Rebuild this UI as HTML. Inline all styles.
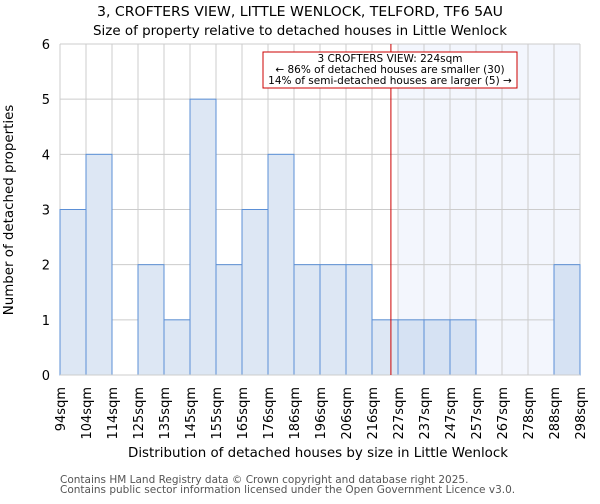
<!DOCTYPE html>
<html><head><meta charset="utf-8"><style>
body{margin:0;background:#fff;font-family:"DejaVu Sans","Liberation Sans",sans-serif}
</style></head><body>
<svg id="c" width="600" height="500" xmlns="http://www.w3.org/2000/svg" font-family="DejaVu Sans, Liberation Sans, sans-serif">
<text x="300" y="16" text-anchor="middle" font-size="13" textLength="406" lengthAdjust="spacingAndGlyphs">3, CROFTERS VIEW, LITTLE WENLOCK, TELFORD, TF6 5AU</text>
<text x="300" y="35" text-anchor="middle" font-size="13" textLength="414" lengthAdjust="spacingAndGlyphs">Size of property relative to detached houses in Little Wenlock</text>
<g id="plot"></g>
<text x="318" y="457" text-anchor="middle" font-size="13.4" textLength="380" lengthAdjust="spacingAndGlyphs">Distribution of detached houses by size in Little Wenlock</text>
<text transform="translate(13,210) rotate(-90)" text-anchor="middle" font-size="13.4">Number of detached properties</text>
<text x="60" y="483" font-size="10.5" fill="#555">Contains HM Land Registry data © Crown copyright and database right 2025.</text>
<text x="60" y="493" font-size="10.5" fill="#555">Contains public sector information licensed under the Open Government Licence v3.0.</text>
</svg>
<script>
const edges=[94,104,114,125,135,145,155,165,176,186,196,206,216,227,237,247,257,267,278,288,298];
const counts=[3,4,0,2,1,5,2,3,4,2,2,2,1,1,1,1,0,0,0,2];
const yTicks=[0,1,2,3,4,5,6];
const subject=224;
const NS="http://www.w3.org/2000/svg";
const g=document.getElementById('plot');
const X0=60,X1=580,Y0=375,Y1=44,bw=(X1-X0)/counts.length;
function xi(i){return X0+i*bw;}
function xv(v){for(let i=0;i<edges.length-1;i++){if(v<=edges[i+1])return xi(i)+bw*(v-edges[i])/(edges[i+1]-edges[i]);}return X1;}
function y(v){return Y0-(Y0-Y1)*v/6;}
function el(t,a){const e=document.createElementNS(NS,t);for(const k in a)e.setAttribute(k,a[k]);g.appendChild(e);return e;}
let si=0;while(si<edges.length-1&&edges[si]<subject)si++;
let r=el('rect',{x:xi(si),y:Y1,width:X1-xi(si),height:Y0-Y1,fill:'#f3f6fd'});


for(const t of yTicks){let l=el('line',{x1:X0,x2:X1,y1:y(t),y2:y(t),stroke:'#ccc'});


let tx=el('text',{x:50,y:y(t)+5,'text-anchor':'end','font-size':13});tx.textContent=t;

}
for(let i=0;i<edges.length;i++){let l=el('line',{x1:xi(i),x2:xi(i),y1:Y1,y2:Y0,stroke:'#ccc'});


let tx=el('text',{transform:`translate(${xi(i)+5},387) rotate(-90)`,'text-anchor':'end','font-size':13});tx.textContent=edges[i]+'sqm';

}
counts.forEach((c,i)=>{if(!c)return;let b=el('rect',{x:xi(i),y:y(c),width:bw,height:Y0-y(c),fill:i>=si?'#d6e2f3':'#dde7f4',stroke:'#5b8fd6','stroke-width':1});

});
let ax=el('line',{x1:X0,x2:X1,y1:Y0,y2:Y0,stroke:'#ccc'});


const lx=xv(subject);
let sl=el('line',{x1:lx,x2:lx,y1:Y1,y2:Y0,stroke:'#c00','stroke-width':1});


let box=el('rect',{x:263,y:52,width:254,height:36,fill:'#fff',stroke:'#c00'});


['3 CROFTERS VIEW: '+subject+'sqm','← 86% of detached houses are smaller (30)','14% of semi-detached houses are larger (5) →'].forEach((s,k)=>{
let t=el('text',{x:390,y:62+k*11,'text-anchor':'middle','font-size':10.5});t.textContent=s;

});
</script>
</body></html>
